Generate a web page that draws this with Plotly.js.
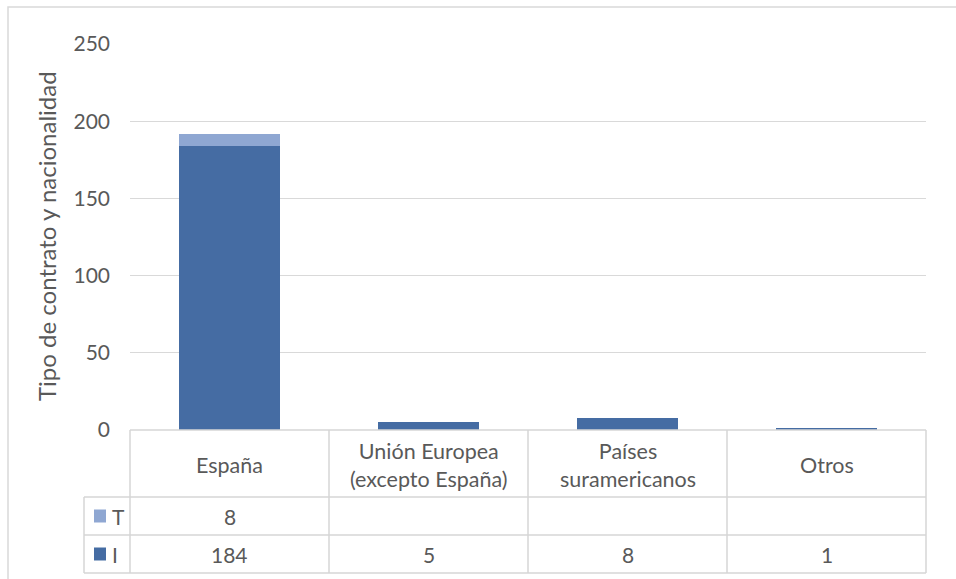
<!DOCTYPE html>
<html>
<head>
<meta charset="utf-8">
<script src="https://cdn.plot.ly/plotly-3.0.1.min.js"></script>
<style>html,body{margin:0;padding:0;background:#fff;}#chart{width:956px;height:579px;}</style>
</head>
<body>
<div id="chart"></div>
<script>
// ---- data ----
const categories = ["España", "Unión Europea<br>(excepto España)", "Países<br>suramericanos", "Otros"];
const seriesNames = ["T", "I"];
const valuesT = [8, null, null, null];
const valuesI = [184, 5, 8, 1];
const yTicks = [0, 50, 100, 150, 200, 250];
const yTitle = "Tipo de contrato y nacionalidad";

// ---- styles ----
const colT = "#8FA7D2";
const colI = "#456CA3";
const txt = "#595959";
const lineCol = "#D6D6D6";
const font = "Lato, 'Liberation Sans', sans-serif";

const W = 956, H = 579;
const L = 130, R = 926, T = 44, B = 430;
const xp = px => (px - L) / (R - L);
const yp = py => (B - py) / (B - T);

const idx = categories.map((c, i) => i);

const traces = [
  {type: "bar", x: idx, y: valuesI, name: seriesNames[1], marker: {color: colI}, width: 0.51, hoverinfo: "y"},
  {type: "bar", x: idx, y: valuesT, name: seriesNames[0], marker: {color: colT}, width: 0.51, hoverinfo: "y"}
];

// table geometry (pixels)
const tblLeft = 84, hdrTop = B, rowT = 497, rowI = 535, tblBottom = 573;
const colEdges = [L].concat(idx.map(i => L + (i + 1) * (R - L) / categories.length));

const shapes = [];
const line = (x0, y0, x1, y1) => shapes.push({type: "line", xref: "paper", yref: "paper",
  x0: xp(x0), y0: yp(y0), x1: xp(x1), y1: yp(y1), line: {color: lineCol, width: 1.5}});

// outer chart border
shapes.push({type: "rect", xref: "paper", yref: "paper", x0: xp(8), y0: yp(7), x1: xp(970), y1: yp(590),
  line: {color: "#D9D9D9", width: 1.5}, fillcolor: "rgba(0,0,0,0)", layer: "below"});

// table horizontal lines
line(L, hdrTop, R, hdrTop);
line(tblLeft, rowT, R, rowT);
line(tblLeft, rowI, R, rowI);
line(tblLeft, tblBottom, R, tblBottom);
// vertical lines
colEdges.forEach(x => line(x, hdrTop, x, tblBottom));
line(tblLeft, rowT, tblLeft, tblBottom);

// legend keys
const keys = [[seriesNames[0], colT, (rowT + rowI) / 2], [seriesNames[1], colI, (rowI + tblBottom) / 2]];
keys.forEach(k => {
  shapes.push({type: "rect", xref: "paper", yref: "paper", x0: xp(94), x1: xp(106),
    y0: yp(k[2] - 6.5), y1: yp(k[2] + 6.5), line: {width: 0}, fillcolor: k[1]});
});

const annotations = [];
const ann = (text, px, py, extra) => annotations.push(Object.assign({
  text: text, xref: "paper", yref: "paper", x: xp(px), y: yp(py), showarrow: false,
  font: {family: font, size: 21, color: txt}, xanchor: "center", yanchor: "middle"}, extra || {}));

categories.forEach((c, i) => {
  const cx = (colEdges[i] + colEdges[i + 1]) / 2;
  ann(c, cx, (hdrTop + rowT) / 2 + 1, {font: {family: font, size: 21.5, color: txt}});
  if (valuesT[i] !== null) ann(String(valuesT[i]), cx, (rowT + rowI) / 2);
  if (valuesI[i] !== null) ann(String(valuesI[i]), cx, (rowI + tblBottom) / 2);
});
keys.forEach(k => ann(k[0], 110, k[2], {xanchor: "left"}));

ann(yTitle, 46, 236, {textangle: -90, font: {family: font, size: 24, color: txt}});

const layout = {
  width: W, height: H,
  margin: {l: L, r: W - R, t: T, b: H - B, pad: 0},
  paper_bgcolor: "#fff", plot_bgcolor: "#fff",
  barmode: "stack",
  showlegend: false,
  font: {family: font, color: txt, size: 20},
  xaxis: {range: [-0.5, categories.length - 0.5], showticklabels: false, showgrid: false,
          zeroline: false, showline: false, ticks: "", fixedrange: true},
  yaxis: {range: [0, 250], tickvals: yTicks, ticktext: yTicks.map(String), showgrid: true,
          gridcolor: "#D9D9D9", gridwidth: 1.2, zeroline: false, showline: false, ticks: "",
          ticklabelstandoff: 19, tickfont: {family: font, size: 21, color: txt}, fixedrange: true},
  shapes: shapes,
  annotations: annotations
};

Plotly.newPlot("chart", traces, layout, {displayModeBar: false, staticPlot: true});
</script>
</body>
</html>
